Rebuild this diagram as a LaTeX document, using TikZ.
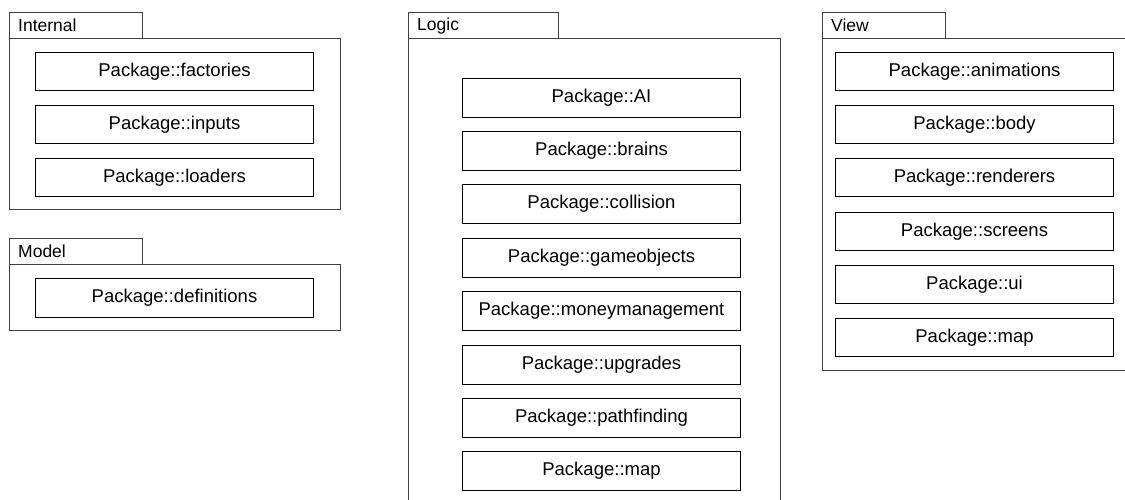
\documentclass[tikz,border=0pt]{standalone}
\usepackage{fontspec}
\setmainfont{Liberation Sans}
\usetikzlibrary{positioning}

\begin{document}
\begin{tikzpicture}[
        x=1pt, y=-1pt,
        % Styles des paquets
        pkg/.style={draw=black!75, line width=1pt, inner sep=0pt,
                    anchor=north west},
        tabbox/.style={pkg, minimum height=26pt},
        tablbl/.style={anchor=west, inner sep=0pt, xshift=9pt,
                       font=\fontsize{17.5}{20}\selectfont},
        sub/.style={draw=black, line width=1pt, anchor=north west,
                    minimum width=278pt, minimum height=38pt,
                    font=\fontsize{18.5}{21}\selectfont},
    ]
        \useasboundingbox (0,0) rectangle (1125,499);
        \clip (0,0) rectangle (1125,499);

        %% ── Internal ──
        \node[tabbox, minimum width=133pt] (inttab) at (9,12) {};
        \node[tablbl] at (inttab.west) {Internal};
        \node[pkg, minimum width=331pt, minimum height=171pt] (int) at (9,38) {};
        \node[sub] (fac) at (35,52)  {Package::factories};
        \node[sub] (inp) at (35,105) {Package::inputs};
        \node[sub] (loa) at (35,158) {Package::loaders};

        %% ── Model ──
        \node[tabbox, minimum width=133pt] (modtab) at (9,238) {};
        \node[tablbl] at (modtab.west) {Model};
        \node[pkg, minimum width=331pt, minimum height=66pt] (mod) at (9,264) {};
        \node[sub, minimum height=39pt] (def) at (35,278) {Package::definitions};

        %% ── Logic (coupé en bas) ──
        \node[tabbox, minimum width=150pt] (logtab) at (408,12) {};
        \node[tablbl] at (logtab.west) {Logic};
        \node[pkg, minimum width=372pt, minimum height=500pt] (log) at (408,38) {};
        \node[sub, minimum height=39pt] (ai)  at (462,78)  {Package::AI};
        \node[sub, minimum height=39pt] (bra) at (462,131) {Package::brains};
        \node[sub, minimum height=39pt] (col) at (462,184) {Package::collision};
        \node[sub, minimum height=39pt] (gob) at (462,238) {Package::gameobjects};
        \node[sub, minimum height=39pt] (mon) at (462,291) {Package::moneymanagement};
        \node[sub, minimum height=39pt] (upg) at (462,345) {Package::upgrades};
        \node[sub, minimum height=39pt] (pat) at (462,398) {Package::pathfinding};
        \node[sub, minimum height=39pt] (lmap) at (462,451) {Package::map};

        %% ── View (coupé à droite) ──
        \node[tabbox, minimum width=123pt] (viewtab) at (822,12) {};
        \node[tablbl] at (viewtab.west) {View};
        \node[pkg, minimum width=330pt, minimum height=332pt] (view) at (822,38) {};
        \node[sub] (ani) at (835,52)  {Package::animations};
        \node[sub] (bod) at (835,105) {Package::body};
        \node[sub] (ren) at (835,158) {Package::renderers};
        \node[sub] (scr) at (835,212) {Package::screens};
        \node[sub] (ui)  at (835,265) {Package::ui};
        \node[sub] (vmap) at (835,318) {Package::map};

    \end{tikzpicture}
\end{document}
